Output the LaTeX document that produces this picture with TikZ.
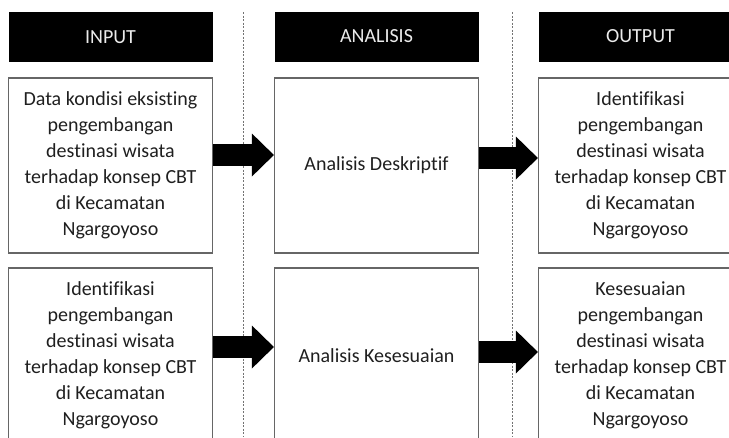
\documentclass[tikz,border=0pt]{standalone}
\usepackage{fontspec}
\setmainfont[Ligatures=NoCommon]{Carlito}
\usetikzlibrary{arrows.meta}

\begin{document}
\begin{tikzpicture}
  [x=1pt,y=-1pt,every node/.style={align=center,font=\fontsize{20}{26}\selectfont}]
  \tikzstyle{header}=[fill=black,text=white!92!black,minimum width=204pt,minimum height=50pt,inner sep=0pt]
  \tikzstyle{box}=[draw=black!60,line width=1.2pt,text=black!88,minimum width=204pt,minimum height=175pt,inner sep=0pt]
  \tikzstyle{bigarrow}=[line width=22pt,-{Triangle[length=22pt,width=43pt,line width=0pt]}]
  \tikzstyle{divider}=[black!55,line width=0.8pt,dash pattern=on 2pt off 1.5pt]
  \useasboundingbox (0,0) rectangle (729,437);
  \clip (0,0) rectangle (729,437);

  % column headers
  \node[header] (hin) at (110.5,37) {INPUT};
  \node[header] (han) at (376.5,36.5) {ANALISIS};
  \node[header] (hout) at (640.5,36.5) {OUTPUT};

  % dividers
  \coordinate (d1t) at (243,12);
  \coordinate (d1b) at (243,437);
  \coordinate (d2t) at (512,12);
  \coordinate (d2b) at (512,437);
  \draw[divider] (d1t) -- (d1b);
  \draw[divider] (d2t) -- (d2b);

  % first row
  \node[box] (in1) at (110.5,165.5) {Data kondisi eksisting \\ pengembangan \\ destinasi wisata \\ terhadap konsep CBT \\ di Kecamatan \\ Ngargoyoso};
  \node[box] (an1) at (376.5,165.5) {Analisis Deskriptif};
  \node[box] (out1) at (640.5,165.5) {Identifikasi \\ pengembangan \\ destinasi wisata \\ terhadap konsep CBT \\ di Kecamatan \\ Ngargoyoso};

  % second row
  \node[box] (in2) at (110.5,355.5) {Identifikasi \\ pengembangan \\ destinasi wisata \\ terhadap konsep CBT \\ di Kecamatan \\ Ngargoyoso};
  \node[box] (an2) at (376.5,355.5) {Analisis Kesesuaian};
  \node[box] (out2) at (640.5,355.5) {Kesesuaian \\ pengembangan \\ destinasi wisata \\ terhadap konsep CBT \\ di Kecamatan \\ Ngargoyoso};

  \draw[bigarrow] ([yshift=10.5pt]in1.east) -- ([yshift=10.5pt]an1.west);
  \draw[bigarrow] ([yshift=7.5pt]an1.east) -- ([yshift=7.5pt]out1.west);
  \draw[bigarrow] ([yshift=8.5pt]in2.east) -- ([yshift=8.5pt]an2.west);
  \draw[bigarrow] ([yshift=3.5pt]an2.east) -- ([yshift=3.5pt]out2.west);

\end{tikzpicture}
\end{document}
